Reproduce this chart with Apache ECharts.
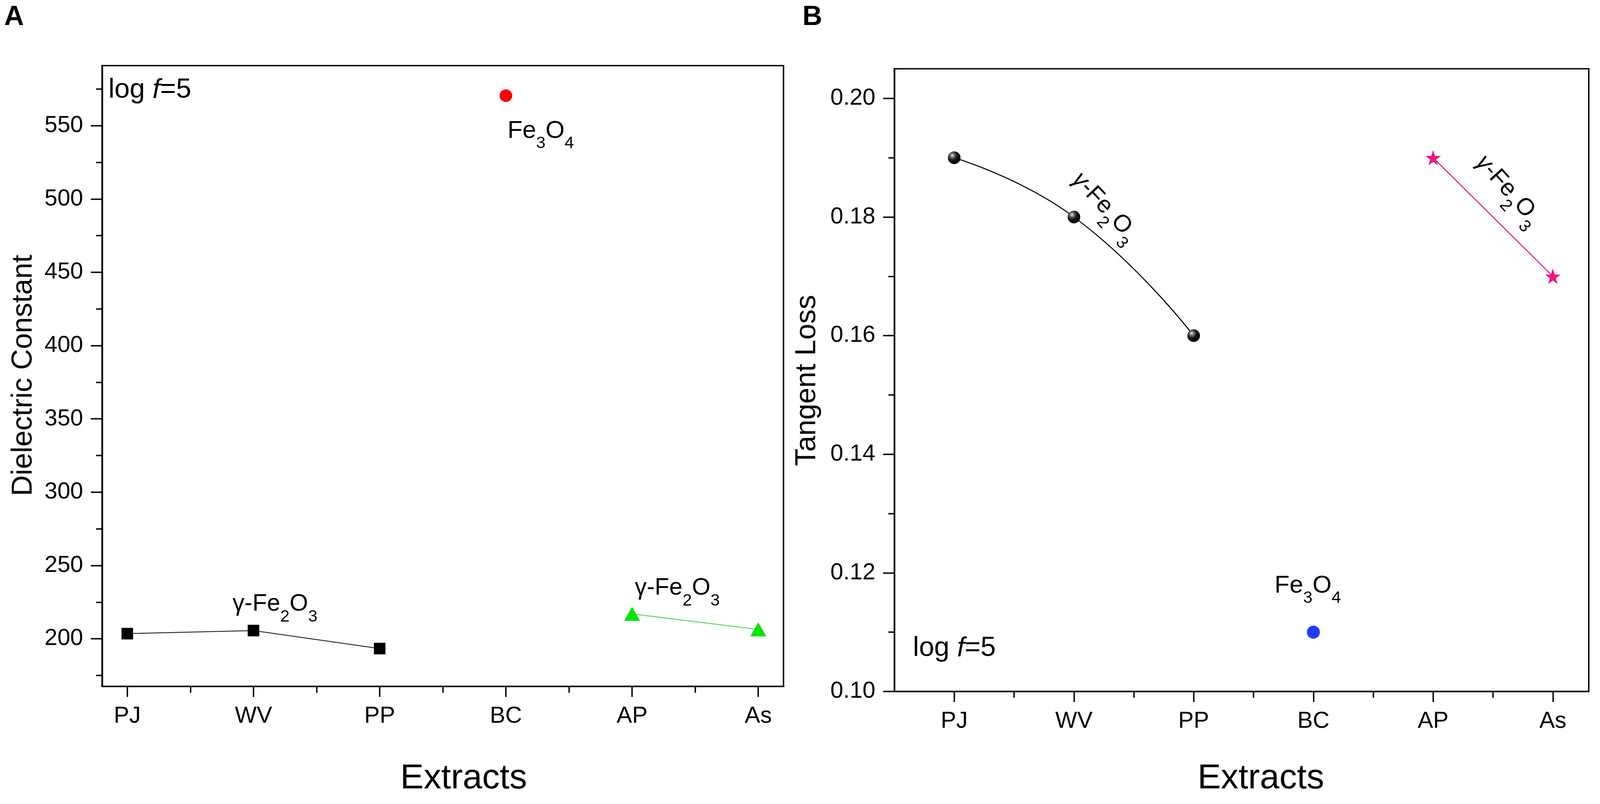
<!DOCTYPE html>
<html>
<head>
<meta charset="utf-8">
<script src="https://cdn.jsdelivr.net/npm/echarts@6/dist/echarts.min.js"></script>
<style>
html,body{margin:0;padding:0;background:#fff;overflow:hidden;}
#main{width:100vw;height:100vh;}
</style>
</head>
<body>
<div id="main"></div>
<script>
// categories
var extracts = ['PJ', 'WV', 'PP', 'BC', 'AP', 'As'];

// A: dielectric constant
var dcSquareNames = ['PJ', 'WV', 'PP'];
var dcSquare = [203.5, 205.6, 193.3];
var dcCircleNames = ['BC'];
var dcCircle = [570.5];
var dcTriNames = ['AP', 'As'];
var dcTri = [217, 206.4];

// B: tangent loss
var tlBallNames = ['PJ', 'WV', 'PP'];
var tlBall = [0.190, 0.180, 0.160];
var tlDotNames = ['BC'];
var tlDot = [0.110];
var tlStarNames = ['AP', 'As'];
var tlStar = [0.190, 0.170];

// tick labels
var xTicks = [0, 1, 2, 3, 4, 5];
var xMinor = [0.5, 1.5, 2.5, 3.5, 4.5];
var dcTicks = [200, 250, 300, 350, 400, 450, 500, 550];
var dcMinor = [175, 225, 275, 325, 375, 425, 475, 525, 575];
var tlTicks = [0.10, 0.12, 0.14, 0.16, 0.18, 0.20];
var tlMinor = [0.11, 0.13, 0.15, 0.17, 0.19];

var FONT = 'Liberation Sans';

// layout is measured on a 4562x2058 page, scale to whatever the window is
var W = window.innerWidth, H = window.innerHeight;
var sx = W / 4562, sy = H / 2058, s = Math.min(sx, sy);
function X(v) { return v * sx; }
function Y(v) { return v * sy; }
function S(v) { return v * s; }

function pts(names, vals) {
	return names.map(function (n, i) { return [extracts.indexOf(n), vals[i]]; });
}

var axisLine = { show: true, onZero: false, lineStyle: { color: '#000', width: S(4.5) } };

function xMain(grid, min, max) {
	return {
		type: 'value', gridIndex: grid, min: min, max: max, position: 'bottom',
		axisLine: axisLine, splitLine: { show: false },
		axisTick: { show: true, customValues: xTicks, length: S(30), lineStyle: { color: '#000', width: S(4) } },
		axisLabel: {
			customValues: xTicks, margin: S(52), fontSize: S(66), lineHeight: S(66), fontFamily: FONT, color: '#000',
			formatter: function (v) { return extracts[Math.round(v)]; }
		}
	};
}
function xSub(grid, min, max) {
	return {
		type: 'value', gridIndex: grid, min: min, max: max, position: 'bottom',
		axisLine: { show: false, onZero: false }, splitLine: { show: false }, axisLabel: { show: false },
		axisTick: { show: true, customValues: xMinor, length: S(18), lineStyle: { color: '#000', width: S(4) } }
	};
}
function yMain(grid, min, max, ticks, fmt) {
	return {
		type: 'value', gridIndex: grid, min: min, max: max, position: 'left',
		axisLine: axisLine, splitLine: { show: false },
		axisTick: { show: true, customValues: ticks, length: S(32), lineStyle: { color: '#000', width: S(4) } },
		axisLabel: {
			customValues: ticks, margin: S(54), fontSize: S(66), fontFamily: FONT, color: '#000',
			formatter: fmt
		}
	};
}
function ySub(grid, min, max, ticks) {
	return {
		type: 'value', gridIndex: grid, min: min, max: max, position: 'left',
		axisLine: { show: false, onZero: false }, splitLine: { show: false }, axisLabel: { show: false },
		axisTick: { show: true, customValues: ticks, length: S(17), lineStyle: { color: '#000', width: S(4) } }
	};
}

var rich = {
	n: { fontSize: S(70), lineHeight: S(70), fontFamily: FONT, color: '#000', verticalAlign: 'top' },
	g: { fontSize: S(68), lineHeight: S(70), fontFamily: FONT, color: '#000', verticalAlign: 'top' },
	gi: { fontSize: S(68), lineHeight: S(70), fontFamily: FONT, fontStyle: 'italic', color: '#000', verticalAlign: 'top' },
	s: { fontSize: S(48), lineHeight: S(48), fontFamily: FONT, color: '#000', verticalAlign: 'top', padding: [S(46), 0, 0, 0] },
	l: { fontSize: S(78), lineHeight: S(78), fontFamily: FONT, color: '#000' },
	li: { fontSize: S(78), lineHeight: S(78), fontFamily: FONT, fontStyle: 'italic', color: '#000' }
};

function txt(x, y, text, opt) {
	opt = opt || {};
	return {
		type: 'text', x: X(x), y: Y(y), rotation: opt.rot || 0, z: 10,
		style: {
			text: text, rich: rich, fill: '#000',
			fontFamily: FONT, fontSize: S(opt.size || 70), fontWeight: opt.weight || 'normal',
			align: opt.align || 'left', verticalAlign: opt.valign || 'top'
		}
	};
}

var chart = echarts.init(document.getElementById('main'), null, { renderer: 'canvas' });

var sphere = new echarts.graphic.RadialGradient(0.35, 0.32, 0.7, [
	{ offset: 0, color: '#f4f4f4' },
	{ offset: 0.22, color: '#777' },
	{ offset: 0.55, color: '#111' },
	{ offset: 1, color: '#000' }
]);
var starPath = 'path://M50,0 L61.8,35.1 L98.1,35.1 L68.7,56.8 L79.4,91.1 L50,70 L20.6,91.1 L31.3,56.8 L1.9,35.1 L38.2,35.1 Z';

var option = {
	backgroundColor: '#fff',
	animation: false,
	grid: [
		{ left: X(291), right: X(2328), top: Y(168), bottom: Y(301), show: true, borderColor: '#000', borderWidth: S(4), outerBoundsMode: 'none' },
		{ left: X(2550), right: X(32), top: Y(176), bottom: Y(288), show: true, borderColor: '#000', borderWidth: S(4), outerBoundsMode: 'none' }
	],
	xAxis: [
		xMain(0, -0.2, 5.2), xSub(0, -0.2, 5.2),
		xMain(1, -0.5, 5.3), xSub(1, -0.5, 5.3)
	],
	yAxis: [
		yMain(0, 167.5, 591, dcTicks, function (v) { return String(v); }), ySub(0, 167.5, 591, dcMinor),
		yMain(1, 0.10, 0.205, tlTicks, function (v) { return v.toFixed(2); }), ySub(1, 0.10, 0.205, tlMinor)
	],
	series: [
		{
			type: 'line', xAxisIndex: 0, yAxisIndex: 0, data: pts(dcSquareNames, dcSquare),
			symbol: 'rect', symbolSize: S(33), itemStyle: { color: '#000', opacity: 1 },
			lineStyle: { color: '#222', width: S(2.5) }
		},
		{
			type: 'scatter', xAxisIndex: 0, yAxisIndex: 0, data: pts(dcCircleNames, dcCircle),
			symbol: 'circle', symbolSize: S(36), itemStyle: { color: '#ff0000', opacity: 1 }
		},
		{
			type: 'line', xAxisIndex: 0, yAxisIndex: 0, data: pts(dcTriNames, dcTri),
			symbol: 'triangle', symbolSize: [S(46), S(40)], itemStyle: { color: '#00e600', opacity: 1 },
			lineStyle: { color: '#4cd64c', width: S(2.5) }
		},
		{
			type: 'line', xAxisIndex: 2, yAxisIndex: 2, data: pts(tlBallNames, tlBall),
			smooth: true, symbol: 'circle', symbolSize: S(36), itemStyle: { color: sphere, opacity: 1 },
			lineStyle: { color: '#000', width: S(3) }
		},
		{
			type: 'scatter', xAxisIndex: 2, yAxisIndex: 2, data: pts(tlDotNames, tlDot),
			symbol: 'circle', symbolSize: S(37), itemStyle: { color: '#1f3cff', opacity: 1 }
		},
		{
			type: 'line', xAxisIndex: 2, yAxisIndex: 2, data: pts(tlStarNames, tlStar),
			symbol: starPath, symbolSize: S(44), itemStyle: { color: '#f0167f', opacity: 1 },
			lineStyle: { color: '#f0167f', width: S(3) }
		}
	],
	graphic: [
		txt(12, 10, 'A', { size: 78, weight: 'bold' }),
		txt(2288, 10, 'B', { size: 78, weight: 'bold' }),
		txt(309, 196, '{l|log }{li|f}{l|=5}'),
		txt(2603, 1625, '{l|log }{li|f}{l|=5}'),
		txt(1447, 304, '{n|Fe}{s|3}{n|O}{s|4}'),
		txt(3634, 1468, '{n|Fe}{s|3}{n|O}{s|4}'),
		txt(663, 1516, '{g|γ-Fe}{s|2}{g|O}{s|3}'),
		txt(1810, 1475, '{g|γ-Fe}{s|2}{g|O}{s|3}'),
		txt(3150, 530, '{gi|γ}{g|-Fe}{s|2}{g|O}{s|3}', { align: 'center', valign: 'middle', rot: -47 * Math.PI / 180 }),
		txt(4300, 487, '{gi|γ}{g|-Fe}{s|2}{g|O}{s|3}', { align: 'center', valign: 'middle', rot: -48 * Math.PI / 180 }),
		txt(68, 961, 'Dielectric Constant', { size: 82, align: 'center', valign: 'middle', rot: Math.PI / 2 }),
		txt(2302, 974, 'Tangent Loss', { size: 82, align: 'center', valign: 'middle', rot: Math.PI / 2 }),
		txt(1322, 1993, 'Extracts', { size: 100, align: 'center', valign: 'middle' }),
		txt(3595, 1993, 'Extracts', { size: 100, align: 'center', valign: 'middle' })
	]
};

chart.setOption(option);
</script>
</body>
</html>
